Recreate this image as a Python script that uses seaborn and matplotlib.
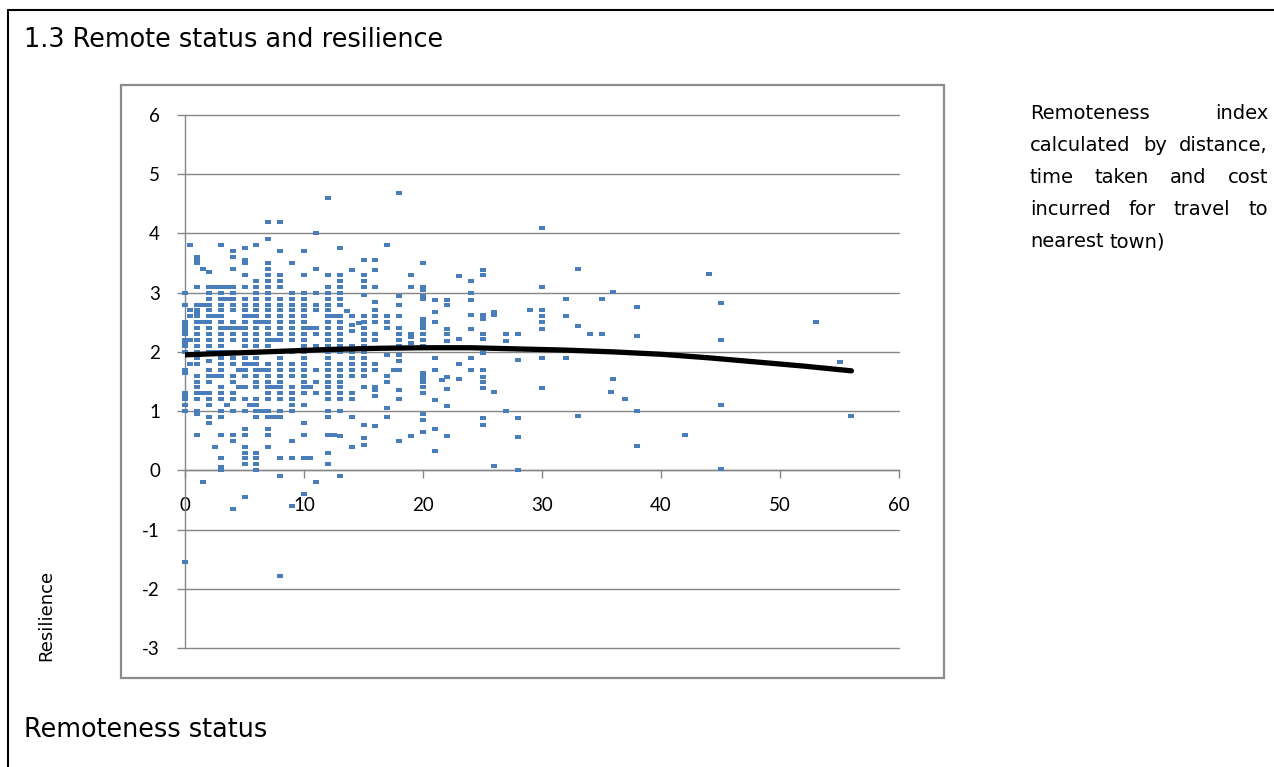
import numpy as np
import pandas as pd
import matplotlib
matplotlib.use("Agg")
import matplotlib.pyplot as plt
import seaborn as sns
from matplotlib.patches import Rectangle
from matplotlib.lines import Line2D

# Remoteness status (x) and the resilience values seen at each x
remote_x = [0, 0.4, 1, 1.5, 2, 2.5, 3, 3.5, 4, 4.5, 5, 5.5, 6, 6.5, 7, 7.5, 8, 9, 10, 10.5,
            11, 12, 12.5, 13, 13.6, 14, 14.6, 15, 16, 17, 17.6, 18, 19, 20, 21, 21.6, 22, 23,
            24, 25, 26, 27, 28, 29, 30, 32, 33, 34, 35, 35.8, 36, 37, 38, 42, 44, 45, 53, 55, 56]
resilience = [
    [3.0, 2.8, 2.5, 2.45, 2.4, 2.35, 2.3, 2.2, 2.15, 2.1, 2.0, 1.7, 1.65, 1.3, 1.25, 1.2, 1.1, 1.0, -1.55],
    [3.8, 2.7, 2.6, 2.2, 1.8],
    [3.6, 3.55, 3.5, 3.1, 2.8, 2.7, 2.65, 2.6, 2.5, 2.4, 2.3, 2.2, 2.1, 2.0, 1.9, 1.8, 1.6, 1.5, 1.4, 1.3, 1.2, 1.0, 0.95, 0.6],
    [3.4, 2.8, 2.5, 1.3, -0.2],
    [3.35, 3.1, 3.0, 2.9, 2.8, 2.7, 2.6, 2.5, 2.4, 2.3, 2.2, 2.1, 2.0, 1.85, 1.7, 1.6, 1.5, 1.3, 1.2, 1.1, 0.9, 0.8],
    [3.1, 2.6, 2.0, 1.6, 0.4],
    [3.8, 3.1, 3.0, 2.9, 2.8, 2.7, 2.6, 2.5, 2.4, 2.3, 2.2, 2.1, 2.0, 1.9, 1.8, 1.7, 1.6, 1.4, 1.3, 1.2, 1.0, 0.9, 0.6, 0.2, 0.05, 0.0],
    [3.1, 2.9, 2.4, 2.0, 1.1],
    [3.7, 3.6, 3.4, 3.1, 3.0, 2.9, 2.8, 2.7, 2.5, 2.4, 2.3, 2.2, 2.0, 1.9, 1.8, 1.6, 1.5, 1.3, 1.2, 1.0, 0.6, 0.5, -0.65],
    [2.4, 1.7, 1.4],
    [3.75, 3.55, 3.5, 3.3, 3.1, 2.9, 2.8, 2.7, 2.6, 2.5, 2.4, 2.3, 2.2, 2.1, 2.0, 1.9, 1.8, 1.7, 1.6, 1.4, 1.2, 1.0, 0.7, 0.6, 0.4, 0.3, 0.2, 0.1, -0.45],
    [2.6, 1.8, 1.1],
    [3.8, 3.2, 3.1, 3.0, 2.9, 2.8, 2.7, 2.6, 2.5, 2.4, 2.3, 2.2, 2.1, 2.0, 1.9, 1.8, 1.7, 1.6, 1.5, 1.4, 1.2, 1.1, 1.0, 0.9, 0.3, 0.2, 0.1, 0.0],
    [2.5, 1.7, 1.0],
    [4.2, 3.9, 3.5, 3.4, 3.3, 3.2, 3.1, 3.0, 2.9, 2.8, 2.7, 2.6, 2.5, 2.4, 2.3, 2.2, 2.1, 2.0, 1.8, 1.7, 1.6, 1.5, 1.4, 1.3, 1.2, 1.0, 0.9, 0.7, 0.6, 0.4],
    [2.2, 1.4, 0.9],
    [4.2, 3.7, 3.3, 3.2, 3.1, 2.9, 2.8, 2.7, 2.6, 2.5, 2.4, 2.3, 2.2, 2.0, 1.9, 1.8, 1.7, 1.6, 1.5, 1.4, 1.3, 1.2, 1.0, 0.9, 0.2, -0.1, -1.78],
    [3.5, 3.0, 2.9, 2.8, 2.7, 2.6, 2.5, 2.4, 2.3, 2.2, 2.0, 1.8, 1.7, 1.6, 1.4, 1.3, 1.2, 1.1, 1.0, 0.5, 0.2, -0.6],
    [3.7, 3.3, 3.0, 2.9, 2.8, 2.7, 2.6, 2.5, 2.4, 2.3, 2.2, 2.1, 2.0, 1.9, 1.8, 1.7, 1.6, 1.5, 1.4, 1.3, 1.1, 0.8, 0.6, 0.2, -0.4],
    [2.4, 1.4, 0.2],
    [4.0, 3.4, 3.0, 2.8, 2.7, 2.4, 2.3, 2.1, 1.7, 1.5, 1.3, -0.2],
    [4.6, 3.3, 3.1, 3.0, 2.9, 2.8, 2.7, 2.6, 2.5, 2.4, 2.3, 2.2, 2.1, 2.0, 1.9, 1.8, 1.7, 1.6, 1.5, 1.4, 1.3, 1.2, 1.0, 0.9, 0.6, 0.3, 0.1],
    [2.6, 0.6],
    [3.76, 3.3, 3.2, 3.1, 3.0, 2.9, 2.8, 2.6, 2.5, 2.4, 2.3, 2.2, 2.1, 2.0, 1.8, 1.7, 1.6, 1.5, 1.4, 1.3, 1.2, 1.0, 0.58, -0.1],
    [2.69],
    [3.39, 2.6, 2.45, 2.35, 2.1, 2.0, 1.9, 1.8, 1.7, 1.6, 1.3, 1.2, 0.9, 0.39],
    [2.49],
    [3.56, 3.3, 3.2, 3.1, 2.96, 2.6, 2.5, 2.4, 2.3, 2.2, 2.1, 2.0, 1.9, 1.8, 1.7, 1.6, 1.4, 0.77, 0.55, 0.42],
    [3.56, 3.39, 3.1, 2.85, 2.7, 2.6, 2.5, 2.3, 2.2, 1.8, 1.7, 1.4, 1.35, 1.25, 0.75],
    [3.8, 2.6, 2.5, 2.4, 1.95, 1.6, 1.5, 1.05, 0.9],
    [1.69],
    [4.69, 2.95, 2.8, 2.6, 2.4, 2.3, 2.2, 2.1, 1.95, 1.85, 1.7, 1.35, 1.2, 0.49],
    [3.3, 3.1, 2.3, 2.25, 2.15, 0.58],
    [3.5, 3.1, 3.05, 2.95, 2.9, 2.55, 2.5, 2.45, 2.4, 2.3, 2.2, 2.1, 1.65, 1.6, 1.55, 1.5, 1.4, 1.3, 0.95, 0.85, 0.65],
    [2.88, 2.67, 2.5, 1.89, 1.69, 1.19, 0.69, 0.32],
    [1.52],
    [2.88, 2.8, 2.38, 2.3, 2.19, 1.58, 1.37, 1.08, 0.58],
    [3.28, 2.21, 1.8, 1.54],
    [3.19, 2.99, 2.88, 2.62, 2.38, 1.89, 1.69],
    [3.39, 3.3, 2.62, 2.55, 2.3, 2.21, 1.98, 1.69, 1.58, 1.5, 1.39, 0.89, 0.77],
    [2.67, 2.62, 1.32, 0.08],
    [2.3, 2.19, 1.0],
    [2.3, 1.86, 0.89, 0.56, 0.0],
    [2.71],
    [4.1, 3.1, 2.7, 2.61, 2.5, 2.39, 1.89, 1.39],
    [2.9, 2.61, 1.9],
    [3.4, 2.44, 0.91],
    [2.31],
    [2.9, 2.31],
    [1.32],
    [3.01, 1.55],
    [1.2],
    [2.75, 2.27, 1.01, 0.41],
    [0.6],
    [3.31],
    [2.83, 2.2, 1.1, 0.02],
    [2.51],
    [1.83],
    [0.91],
]

# polynomial trend line
trend_x = [0, 4, 8, 12, 16, 20, 24, 28, 32, 36, 40, 44, 48, 52, 56]
trend_y = [1.95, 1.98, 2.01, 2.04, 2.06, 2.07, 2.07, 2.05, 2.03, 2.00, 1.96, 1.90, 1.83, 1.76, 1.68]

x_ticks = [0, 10, 20, 30, 40, 50, 60]
y_ticks = [-3, -2, -1, 0, 1, 2, 3, 4, 5, 6]

note_lines = [
    (["Remoteness", "index"], True),
    (["calculated", "by", "distance,"], True),
    (["time", "taken", "and", "cost"], True),
    (["incurred", "for", "travel", "to"], True),
    (["nearest", "town)"], False),
]

df = pd.DataFrame({"remote": remote_x, "resilience": resilience}).explode("resilience")
df["resilience"] = df["resilience"].astype(float)
trend = pd.DataFrame({"remote": trend_x, "resilience": trend_y})

sns.set_theme(style="white")
plt.rcParams["axes.unicode_minus"] = False
plt.rcParams["font.family"] = ["DejaVu Sans"]
plt.rcParams["text.color"] = "black"

W, H = 1274, 767
fig = plt.figure(figsize=(W / 100, H / 100), dpi=100)


def fx(x):
    return x / W


def fy(y):
    return 1 - y / H


ax = fig.add_axes([fx(185), fy(648), fx(899) - fx(185), fy(115) - fy(648)])

grid_col = "#868686"
blue = "#4a7ebb"
marker_box = [(-1.4, -1.0), (1.4, -1.0), (1.4, 1.0), (-1.4, 1.0)]

sns.scatterplot(data=df, x="remote", y="resilience", ax=ax, color=blue,
                marker=marker_box, s=14, linewidth=0, clip_on=False, zorder=3)
sns.lineplot(data=trend, x="remote", y="resilience", ax=ax, color="black",
             linewidth=3.8, zorder=4, solid_capstyle="round")

ax.set_xlim(0, 60)
ax.set_ylim(-3, 6)
ax.set_xticks(x_ticks)
ax.set_yticks(y_ticks)
ax.set_xlabel("")
ax.set_ylabel("")
ax.yaxis.grid(True, color=grid_col, linewidth=1.0)
ax.xaxis.grid(False)
ax.set_axisbelow(True)
for gl in ax.get_ygridlines():
    gl.set_clip_on(False)

for s in ["top", "right"]:
    ax.spines[s].set_visible(False)
ax.spines["bottom"].set_position(("data", 0))
ax.spines["bottom"].set_color(grid_col)
ax.spines["left"].set_color(grid_col)
ax.spines["bottom"].set_linewidth(1.0)
ax.spines["left"].set_linewidth(1.0)

ax.tick_params(axis="x", direction="out", length=6, width=1, color=grid_col,
               pad=13, labelsize=13.5, labelcolor="black", bottom=True)
ax.tick_params(axis="y", direction="out", length=6, width=1, color=grid_col,
               pad=12, labelsize=13.5, labelcolor="black", left=True)
for lab in ax.get_xticklabels() + ax.get_yticklabels():
    lab.set_fontfamily(["Lato", "DejaVu Sans"])

# chart area frame
fig.patches.append(Rectangle((fx(121), fy(678)), fx(944) - fx(121), fy(85) - fy(678),
                             transform=fig.transFigure, fill=False,
                             edgecolor="#8c8c8c", linewidth=1.6))
# outer page box
fig.add_artist(Line2D([fx(8), fx(8)], [0, fy(10)], color="black", linewidth=1.5))
fig.add_artist(Line2D([fx(8), 1], [fy(10), fy(10)], color="black", linewidth=1.5))

fig.text(fx(24), fy(47), "1.3 Remote status and resilience", fontsize=18.4,
         ha="left", va="baseline")
fig.text(fx(24), fy(737), "Remoteness status", fontsize=18.4, ha="left", va="baseline")
fig.text(fx(46), fy(615), "Resilience", fontsize=13, rotation=90, ha="center", va="center")

# justified side note
renderer = fig.canvas.get_renderer()
note_left, note_right, note_top, note_step = 1030, 1268, 119, 32
space_w = None
for i, (words, justify) in enumerate(note_lines):
    base = fy(note_top + i * note_step)
    texts = [fig.text(0, base, w, fontsize=14, ha="left", va="baseline") for w in words]
    widths = [t.get_window_extent(renderer).width for t in texts]
    if space_w is None:
        probe = fig.text(0, 0, "a a", fontsize=14)
        probe2 = fig.text(0, 0, "aa", fontsize=14)
        space_w = probe.get_window_extent(renderer).width - probe2.get_window_extent(renderer).width
        probe.remove()
        probe2.remove()
    if justify and len(words) > 1:
        gap = (note_right - note_left - sum(widths)) / (len(words) - 1)
    else:
        gap = space_w
    x = note_left
    for t, w in zip(texts, widths):
        t.set_x(fx(x))
        x += w + gap

fig.savefig("out.png", dpi=100)
